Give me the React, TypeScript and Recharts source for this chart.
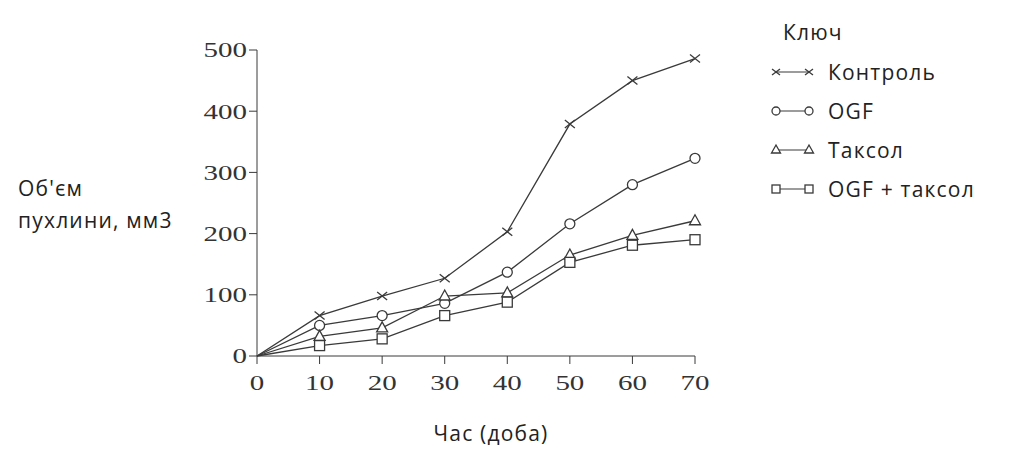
import React from 'react';
import { LineChart, Line, XAxis, YAxis } from 'recharts';

const days = [0, 10, 20, 30, 40, 50, 60, 70];
const control = [0, 66, 98, 127, 203, 379, 450, 486];
const ogf = [0, 50, 66, 86, 137, 216, 280, 323];
const taxol = [0, 32, 46, 98, 103, 165, 197, 221];
const ogfTaxol = [0, 17, 28, 66, 88, 153, 181, 190];
const yTicks = [0, 100, 200, 300, 400, 500];
const xTicks = [0, 10, 20, 30, 40, 50, 60, 70];

const seriesNames = ['Контроль', 'OGF', 'Таксол', 'OGF + таксол'];
const seriesKeys = ['control', 'ogf', 'taxol', 'ogfTaxol'];
const shapes = ['cross', 'circle', 'triangle', 'square'];

const data = days.map((d, i) => ({
  day: d,
  control: control[i],
  ogf: ogf[i],
  taxol: taxol[i],
  ogfTaxol: ogfTaxol[i],
}));

const INK = '#3a3a3a';
const SANS = '"Open Sans", "Noto Sans", sans-serif';
const SERIF = '"Liberation Serif", "DejaVu Serif", serif';

const Marker = ({ shape, cx, cy, r = 5 }: { shape: string; cx: number; cy: number; r?: number }) => {
  if (shape === 'cross') {
    return (
      <g stroke={INK} strokeWidth={1.3}>
        <line x1={cx - r} y1={cy - r + 1} x2={cx + r} y2={cy + r - 1} />
        <line x1={cx - r} y1={cy + r - 1} x2={cx + r} y2={cy - r + 1} />
      </g>
    );
  }
  if (shape === 'circle') {
    return <circle cx={cx} cy={cy} r={r} fill="#fff" stroke={INK} strokeWidth={1.3} />;
  }
  if (shape === 'triangle') {
    return (
      <polygon
        points={`${cx},${cy - r - 1} ${cx - r - 0.5},${cy + r - 1} ${cx + r + 0.5},${cy + r - 1}`}
        fill="#fff"
        stroke={INK}
        strokeWidth={1.3}
      />
    );
  }
  return <rect x={cx - r} y={cy - r} width={r * 2} height={r * 2} fill="#fff" stroke={INK} strokeWidth={1.3} />;
};

const makeDot = (shape: string) => (props: any) => {
  const { cx, cy, index } = props;
  if (index === 0) return <g key={`d-${shape}-${index}`} />;
  return <Marker key={`d-${shape}-${index}`} shape={shape} cx={cx} cy={cy} />;
};

// the source picture is stretched sideways, so the serif digits are widened
const XTick = (props: any) => {
  const { x, y, payload } = props;
  return (
    <text
      transform={`translate(${x},${y + 17}) scale(1.38,1)`}
      textAnchor="middle"
      dominantBaseline="central"
      fill="#333"
      fontSize={21}
      fontFamily={SERIF}
    >
      {payload.value}
    </text>
  );
};

const YTick = (props: any) => {
  const { x, y, payload } = props;
  return (
    <text
      transform={`translate(${x},${y}) scale(1.38,1)`}
      textAnchor="end"
      dominantBaseline="central"
      fill="#333"
      fontSize={21}
      fontFamily={SERIF}
    >
      {payload.value}
    </text>
  );
};

const textStyle = { fontFamily: SANS, fontSize: 21, color: '#222', letterSpacing: 1.2 };

export default function App() {
  return (
    <div style={{ position: 'absolute', left: 0, top: 0, width: 1024, height: 459, background: '#fff' }}>
      <LineChart width={1024} height={459} data={data} margin={{ top: 50, right: 329, bottom: 63, left: 197 }}>
        <XAxis
          dataKey="day"
          type="number"
          domain={[0, 70]}
          ticks={xTicks}
          height={40}
          tickSize={8}
          stroke={INK}
          tick={<XTick />}
        />
        <YAxis
          type="number"
          domain={[0, 500]}
          ticks={yTicks}
          width={60}
          tickSize={8}
          stroke={INK}
          tick={<YTick />}
        />
        {seriesKeys.map((k, i) => (
          <Line
            key={k}
            type="linear"
            dataKey={k}
            name={seriesNames[i]}
            stroke={INK}
            strokeWidth={1.3}
            dot={makeDot(shapes[i])}
            activeDot={false}
            isAnimationActive={false}
          />
        ))}
      </LineChart>
      <div style={{ position: 'absolute', left: 766, top: 13, ...textStyle }}>
        <div style={{ marginLeft: 17, height: 39, lineHeight: '39px' }}>Ключ</div>
        {seriesNames.map((name, i) => (
          <div key={name} style={{ display: 'flex', alignItems: 'center', height: 39 }}>
            <svg width={52} height={14} style={{ marginRight: 10 }}>
              <line x1={10} y1={7} x2={43} y2={7} stroke={INK} strokeWidth={1.2} />
              <Marker shape={shapes[i]} cx={10} cy={7} r={4} />
              <Marker shape={shapes[i]} cx={43} cy={7} r={4} />
            </svg>
            <span>{name}</span>
          </div>
        ))}
      </div>
      <div style={{ position: 'absolute', left: 18, top: 172, lineHeight: '32px', ...textStyle }}>
        Об'єм
        <br />
        пухлини, мм3
      </div>
      <div style={{ position: 'absolute', left: 0, width: 982, top: 419, textAlign: 'center', ...textStyle }}>
        Час (доба)
      </div>
    </div>
  );
}
